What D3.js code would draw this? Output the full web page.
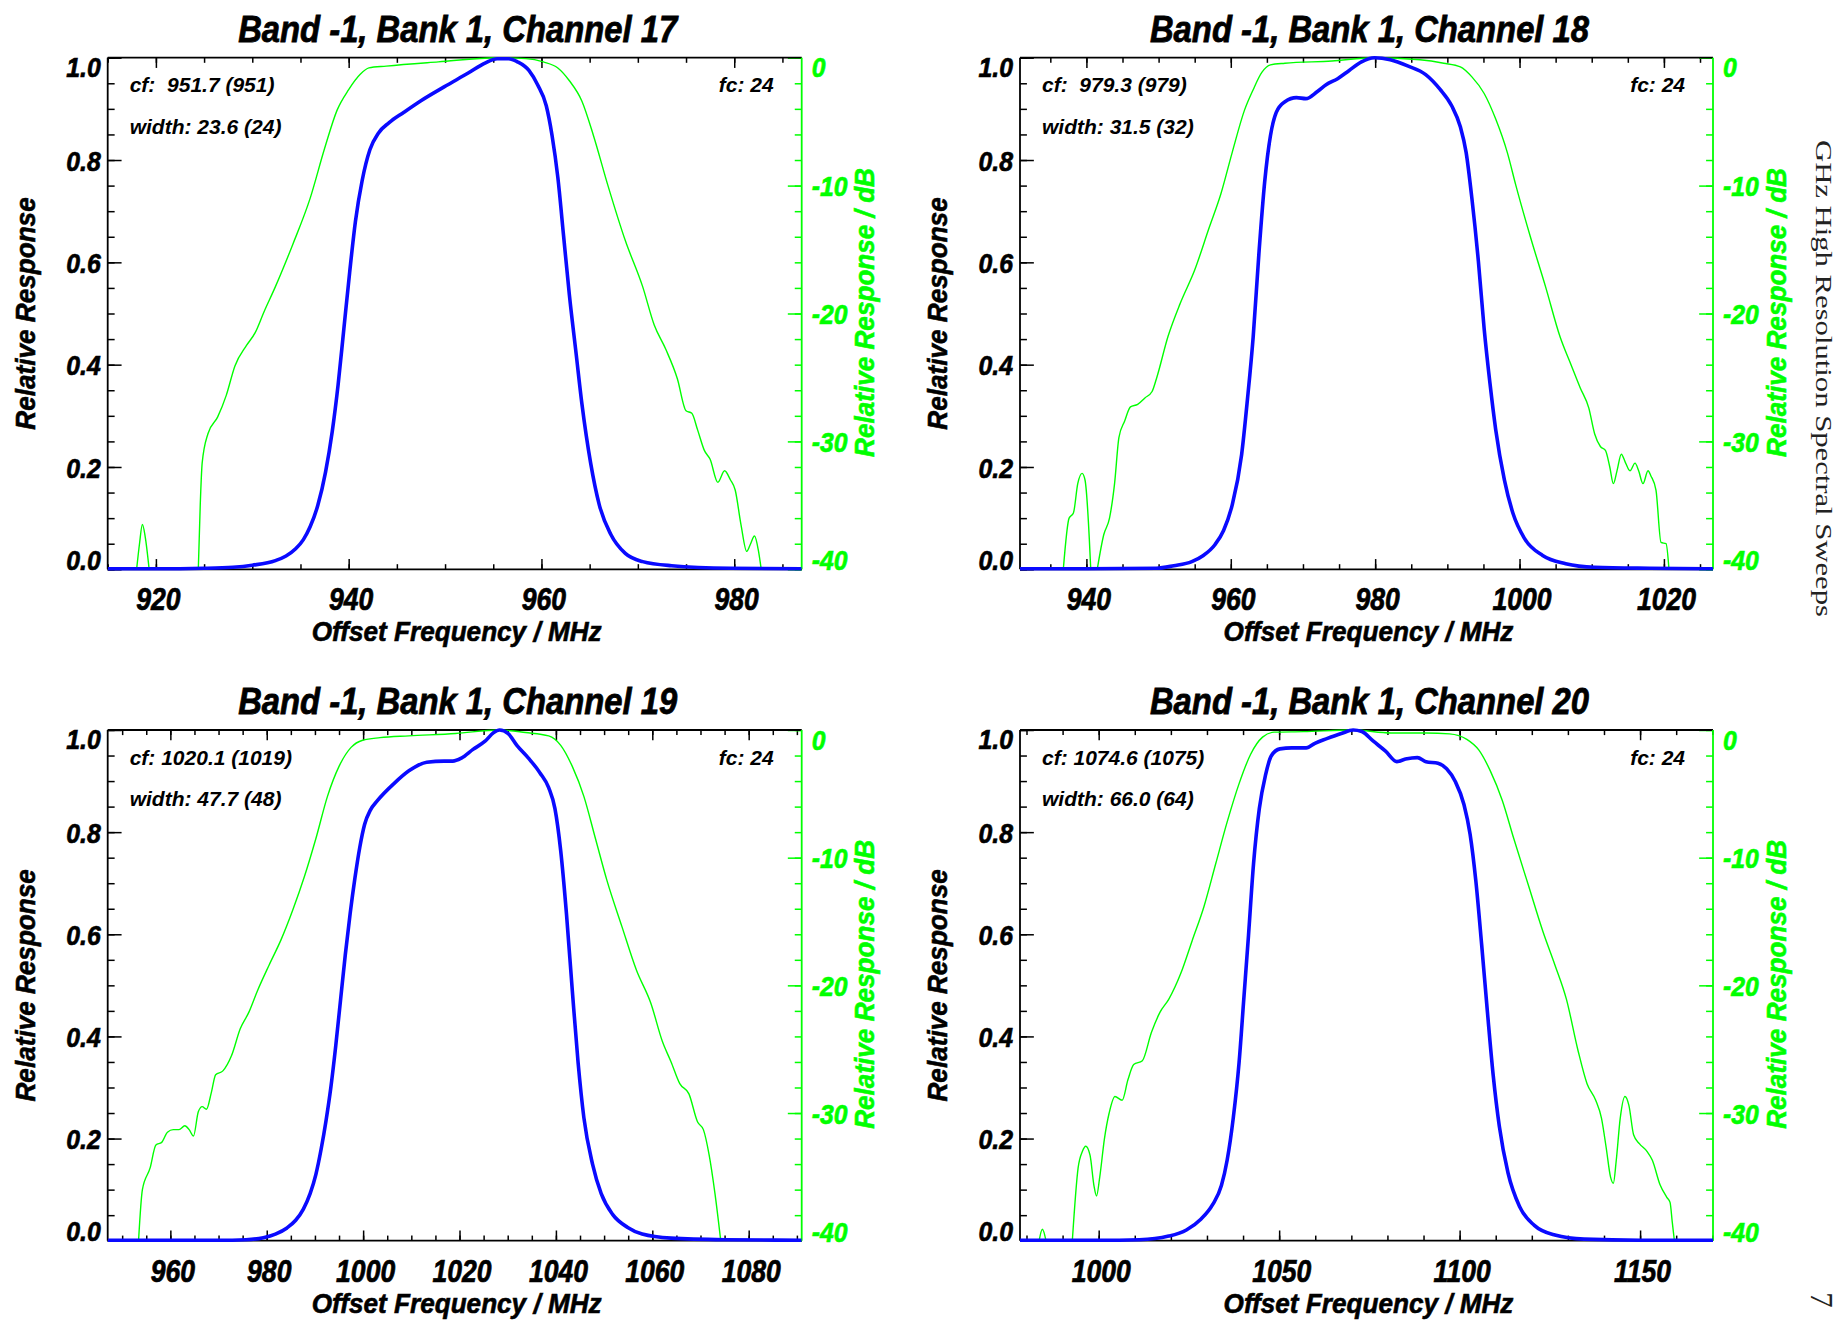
<!DOCTYPE html>
<html>
<head>
<meta charset="utf-8">
<script src="https://cdn.jsdelivr.net/npm/d3@7"></script>
<style>
  body { margin: 0; background: #fff; }
  svg { display: block; }
</style>
</head>
<body>
<script>
// ---------------- DATA ----------------
const titles = ["Band -1, Bank 1, Channel 17", "Band -1, Bank 1, Channel 18",
                "Band -1, Bank 1, Channel 19", "Band -1, Bank 1, Channel 20"];
const cfLabels = ["cf:  951.7 (951)", "cf:  979.3 (979)", "cf: 1020.1 (1019)", "cf: 1074.6 (1075)"];
const widthLabels = ["width: 23.6 (24)", "width: 31.5 (32)", "width: 47.7 (48)", "width: 66.0 (64)"];
const fcLabels = ["fc: 24", "fc: 24", "fc: 24", "fc: 24"];

const xDomains = [[915, 987], [930.8, 1026.8], [947, 1091], [978.2, 1170.2]];
const xTickValues = [[920, 940, 960, 980], [940, 960, 980, 1000, 1020],
                     [960, 980, 1000, 1020, 1040, 1060, 1080], [1000, 1050, 1100, 1150]];
const xMinorSteps = [5, 5, 5, 10];

const yTickValues = [0, 0.2, 0.4, 0.6, 0.8, 1.0];
const yTickLabels = ["0.0", "0.2", "0.4", "0.6", "0.8", "1.0"];
const dbTickValues = [-40, -30, -20, -10, 0];
const dbTickLabels = ["-40", "-30", "-20", "-10", "0"];

const xTitle = "Offset Frequency / MHz";
const yTitle = "Relative Response";
const dbTitle = "Relative Response / dB";
const sideNote = "GHz High Resolution Spectral Sweeps";
const pageNumber = "7";

// linear relative response [MHz, value]
const ch17Lin = [[915,0.001],[920,0.001],[925,0.002],[928,0.004],[930,0.008],[932.4,0.017],[933.5,0.026],
  [934.5,0.040],[935.3,0.058],[936.0,0.083],[936.8,0.125],[937.6,0.19],[938.3,0.27],[938.9,0.36],[939.5,0.47],
  [940.1,0.58],[940.7,0.68],[941.4,0.76],[942.2,0.82],[943.1,0.853],[944.2,0.873],[945.7,0.893],[947.5,0.916],
  [949.9,0.943],[952.4,0.97],[954.2,0.99],[955.4,0.998],[956.6,0.998],[957.5,0.992],[958.7,0.975],[959.6,0.947],
  [960.5,0.906],[961.1,0.848],[961.7,0.766],[962.3,0.651],[962.9,0.536],[963.6,0.421],[964.2,0.323],[965.1,0.208],
  [966.0,0.126],[967.2,0.068],[968.7,0.031],[970.5,0.015],[973.5,0.007],[979.6,0.002],[987,0.001]];
const ch18Lin = [[930.8,0.001],[940,0.001],[949.7,0.002],[952.1,0.007],[954.6,0.015],[956.2,0.027],[957.8,0.048],
  [959.0,0.076],[960.2,0.126],[961.5,0.224],[962.3,0.331],[963.1,0.454],[963.9,0.618],[964.7,0.758],[965.5,0.848],
  [966.3,0.893],[967.5,0.914],[969.1,0.922],[970.4,0.920],[972.0,0.934],[973.2,0.947],[974.8,0.959],[976.4,0.975],
  [978.1,0.992],[979.9,1.0],[982.1,0.996],[984.5,0.984],[987.0,0.967],[989.0,0.938],[990.6,0.906],[991.8,0.865],
  [992.6,0.815],[993.4,0.725],[994.3,0.602],[995.1,0.470],[995.9,0.364],[996.7,0.273],[997.9,0.175],[999.1,0.109],
  [1000.7,0.06],[1003.2,0.027],[1006.4,0.011],[1010.4,0.004],[1018,0.002],[1026.8,0.001]];
const ch19Lin = [[947,0.001],[960,0.001],[970,0.001],[975.7,0.002],[979.3,0.006],[981.8,0.013],[984.2,0.025],
  [986.0,0.040],[987.6,0.062],[989.0,0.092],[990.2,0.13],[991.3,0.18],[992.3,0.235],[993.3,0.30],[994.3,0.38],
  [995.3,0.47],[996.3,0.56],[997.3,0.64],[998.3,0.71],[999.3,0.77],[1000.3,0.815],[1001.5,0.843],[1003.0,0.862],
  [1006.5,0.896],[1009.5,0.920],[1013.2,0.937],[1016.8,0.939],[1018.6,0.939],[1020.4,0.945],[1022.8,0.962],
  [1025.3,0.978],[1027.1,0.995],[1028.3,1.0],[1030.1,0.993],[1031.9,0.970],[1034.3,0.945],[1036.7,0.916],
  [1038.5,0.887],[1039.8,0.846],[1041.0,0.763],[1042.2,0.639],[1043.4,0.490],[1044.6,0.349],[1045.8,0.241],
  [1047.6,0.150],[1049.4,0.092],[1051.8,0.051],[1054.9,0.026],[1057.9,0.013],[1063.9,0.005],[1075,0.002],[1091,0.001]];
const ch20Lin = [[978.2,0.001],[1000,0.001],[1011.3,0.002],[1019.4,0.009],[1024.3,0.021],[1028.3,0.042],
  [1031.6,0.071],[1034.0,0.108],[1035.6,0.158],[1037.3,0.241],[1038.9,0.349],[1040.2,0.473],[1041.5,0.597],
  [1042.9,0.738],[1044.5,0.846],[1046.2,0.911],[1047.8,0.949],[1050.2,0.963],[1053.5,0.965],[1057.5,0.965],
  [1059.9,0.974],[1063.2,0.983],[1067.2,0.993],[1070.5,1.0],[1072.9,0.997],[1076.1,0.978],[1079.4,0.959],
  [1082.6,0.938],[1085.0,0.943],[1088.3,0.946],[1090.7,0.938],[1094.0,0.935],[1096.4,0.924],[1098.8,0.899],
  [1101.2,0.854],[1102.9,0.796],[1104.5,0.704],[1106.1,0.580],[1107.7,0.448],[1109.3,0.324],[1111.0,0.224],
  [1113.4,0.133],[1116.6,0.067],[1120.7,0.030],[1126.4,0.011],[1134.5,0.003],[1150,0.001],[1170.2,0.001]];

// relative response in dB [MHz, dB]; null = below the -40 dB floor (not drawn)
const ch17Db = [[918.0,-40],[918.3,-38],[918.6,-36.5],[918.9,-37.5],[919.3,-40],[919.4,null],[924.3,null],
  [924.4,-40],[924.6,-35],[924.8,-31.7],[925.4,-29.4],[926.4,-28.1],[927.3,-26.4],[928.2,-24.1],[929.4,-22.5],
  [930.3,-21.5],[931.2,-19.9],[932.4,-17.9],[934.2,-14.6],[936.0,-11.0],[937.5,-7.1],[938.8,-4.1],[940.0,-2.5],
  [941.2,-1.3],[942.1,-0.8],[943.9,-0.66],[949.3,-0.33],[955.4,0],[958.4,-0.07],[960.2,-0.33],[961.7,-0.8],
  [962.9,-1.8],[964.2,-3.4],[965.4,-6.1],[966.9,-10.0],[968.7,-14.3],[970.5,-17.9],[971.7,-20.9],[972.9,-22.8],
  [974.1,-25.1],[975.0,-27.6],[975.6,-27.8],[976.2,-29.1],[976.9,-30.7],[977.5,-31.4],[978.3,-33.2],[979.0,-32.3],
  [979.6,-33.0],[980.1,-33.8],[980.7,-36.5],[981.3,-38.6],[981.7,-38.0],[982.1,-37.4],[982.5,-38.5],[982.8,-40]];
const ch18Db = [[936.8,-40],[937.6,-36.0],[938.2,-35.6],[938.8,-33.3],[939.4,-32.5],[939.8,-33.0],[940.4,-37.6],
  [940.6,-40],[940.7,null],[941.4,null],[941.5,-40],[942.4,-37.3],[943.2,-36.0],[943.9,-33.3],[944.5,-29.7],
  [945.3,-28.4],[946.1,-27.3],[947.1,-27.1],[948.1,-26.6],[949.1,-26.1],[949.7,-25.1],[951.3,-21.8],[953.0,-19.2],
  [955.0,-16.6],[957.0,-13.3],[958.6,-10.7],[960.2,-7.4],[961.9,-4.1],[963.1,-2.5],[964.3,-1.15],[965.5,-0.56],
  [967.5,-0.43],[974.0,-0.26],[979.8,0],[986.2,-0.16],[989.5,-0.43],[991.8,-0.72],[993.4,-1.5],[995.1,-2.8],
  [996.7,-4.8],[998.3,-7.4],[999.5,-10.0],[1001.5,-14.0],[1003.6,-17.9],[1005.6,-21.8],[1007.2,-24.1],
  [1008.4,-25.8],[1009.6,-27.4],[1010.4,-29.4],[1011.2,-30.4],[1011.9,-30.7],[1012.5,-32.0],[1013.0,-33.3],
  [1013.5,-32.3],[1014.1,-31.0],[1014.7,-31.7],[1015.3,-32.3],[1016.0,-31.7],[1016.5,-32.3],[1017.1,-33.3],
  [1017.8,-32.3],[1018.2,-32.7],[1018.9,-33.8],[1019.6,-37.9],[1020.3,-38.0],[1020.7,-40]];
const ch19Db = [[953.4,-40],[954.2,-36.0],[955.8,-34.3],[957.0,-32.5],[958.2,-32.3],[959.4,-31.5],[960.6,-31.3],
  [961.8,-31.3],[963.0,-31.0],[963.9,-31.3],[964.8,-31.8],[965.8,-29.9],[966.6,-29.5],[967.5,-29.7],[968.5,-28.4],
  [969.4,-27.0],[970.9,-26.7],[972.7,-25.5],[974.5,-23.4],[976.3,-22.1],[978.1,-20.4],[980.5,-18.4],[983.0,-16.4],
  [985.4,-14.1],[987.8,-11.5],[990.2,-8.5],[992.6,-5.2],[995.0,-2.85],[997.5,-1.36],[999.9,-0.8],[1003.5,-0.6],
  [1009.5,-0.46],[1019.2,-0.27],[1028.3,0],[1033.7,-0.2],[1038.5,-0.46],[1041.0,-1.2],[1043.4,-2.85],
  [1045.8,-5.2],[1048.2,-8.5],[1050.6,-11.8],[1053.7,-15.4],[1056.7,-18.8],[1059.7,-21.4],[1062.1,-24.4],
  [1063.9,-26.0],[1065.7,-27.7],[1067.6,-28.5],[1069.4,-30.7],[1070.6,-31.3],[1071.8,-33.3],[1073.0,-36.3],
  [1074.2,-40]];
const ch20Db = [[983.5,-40],[984.4,-39.1],[985.4,-40],[985.5,null],[992.6,null],[992.7,-40],[994.3,-34.3],
  [995.5,-33.0],[996.4,-32.6],[997.6,-33.3],[998.7,-35.7],[999.4,-36.5],[1000.3,-35.0],[1001.6,-32.0],
  [1002.9,-30.0],[1004.5,-28.7],[1006.5,-29.0],[1008.1,-27.4],[1009.7,-26.2],[1012.1,-25.9],[1014.6,-23.7],
  [1017.0,-22.1],[1019.4,-21.1],[1022.7,-19.1],[1025.9,-16.5],[1029.2,-13.8],[1032.4,-10.5],[1035.6,-7.2],
  [1038.9,-4.2],[1042.1,-1.9],[1045.4,-0.56],[1048.6,-0.17],[1056.7,-0.13],[1070.5,0],[1081.0,-0.23],
  [1090.7,-0.23],[1097.2,-0.3],[1102.0,-0.73],[1105.3,-1.56],[1108.5,-3.2],[1111.8,-5.5],[1115.0,-8.5],
  [1119.1,-12.2],[1123.1,-15.8],[1126.4,-18.4],[1129.6,-21.1],[1132.8,-25.1],[1135.3,-27.7],[1137.7,-29.0],
  [1139.3,-30.4],[1140.6,-32.7],[1141.8,-35.0],[1142.6,-35.5],[1143.4,-33.7],[1144.5,-30.4],[1145.8,-28.7],
  [1146.9,-29.4],[1148.2,-31.7],[1149.8,-32.4],[1151.9,-33.0],[1153.4,-33.7],[1155.5,-35.6],[1157.4,-36.6],
  [1158.3,-37.0],[1158.9,-38.5],[1159.5,-40]];

const linSeries = [ch17Lin, ch18Lin, ch19Lin, ch20Lin];
const dbSeries = [ch17Db, ch18Db, ch19Db, ch20Db];

// ---------------- LAYOUT ----------------
const W = 1843, H = 1325;
const cols = [[107.7, 801.7], [1020, 1713]];
const rows = [[57.7, 569.3], [730, 1240.7]];
const BLUE = "#0a0aff", GREEN = "#00ff00";
const SANS = "'Liberation Sans', Arial, Helvetica, sans-serif";

const svg = d3.select("body").append("svg").attr("width", W).attr("height", H);
svg.append("rect").attr("width", W).attr("height", H).attr("fill", "#fff");

function squeeze(sel, f) {
  sel.each(function () {
    const w = this.getComputedTextLength();
    if (w > 0) {
      this.setAttribute("textLength", (w * f).toFixed(2));
      this.setAttribute("lengthAdjust", "spacingAndGlyphs");
    }
  });
}
function styleText(sel, size, color, heavy) {
  const c = color || "#000";
  sel.attr("font-family", SANS).attr("font-weight", "bold").attr("font-style", "italic")
     .attr("font-size", size).attr("fill", c)
     .attr("stroke", heavy ? c : "none").attr("stroke-width", heavy || 0);
}
function cleanAxis(g, color) {
  g.select(".domain").remove();
  g.selectAll(".tick line").attr("stroke", color).attr("stroke-width", 1.5);
}

for (let i = 0; i < 4; i++) {
  const [L, R] = cols[i % 2];
  const [T, B] = rows[Math.floor(i / 2)];
  const x = d3.scaleLinear().domain(xDomains[i]).range([L, R]);
  const y = d3.scaleLinear().domain([0, 1]).range([B, T]);
  const yd = d3.scaleLinear().domain([-40, 0]).range([B, T]);
  const g = svg.append("g");

  const dom = xDomains[i];
  const minorX = d3.range(Math.ceil(dom[0] / xMinorSteps[i]) * xMinorSteps[i], dom[1] + 1e-9, xMinorSteps[i]);
  const xMaj = 0.02 * (B - T), yMaj = 0.02 * (R - L);

  // x axes (bottom & top), inward ticks
  const gb1 = g.append("g").attr("transform", `translate(0,${B})`)
    .call(d3.axisBottom(x).tickValues(minorX).tickSize(-xMaj / 2).tickFormat(""));
  cleanAxis(gb1, "#000");
  const gb2 = g.append("g").attr("transform", `translate(0,${B})`)
    .call(d3.axisBottom(x).tickValues(xTickValues[i]).tickSize(-xMaj).tickFormat(d => String(d)));
  cleanAxis(gb2, "#000");
  const xl = gb2.selectAll(".tick text").attr("y", 41).attr("dy", 0).attr("dx", 2);
  styleText(xl, 30.5, "#000", 0.7); squeeze(xl, 0.87);

  const gt1 = g.append("g").attr("transform", `translate(0,${T})`)
    .call(d3.axisTop(x).tickValues(minorX).tickSize(-xMaj / 2).tickFormat(""));
  cleanAxis(gt1, "#000");
  const gt2 = g.append("g").attr("transform", `translate(0,${T})`)
    .call(d3.axisTop(x).tickValues(xTickValues[i]).tickSize(-xMaj).tickFormat(""));
  cleanAxis(gt2, "#000");

  // left linear axis
  const gl1 = g.append("g").attr("transform", `translate(${L},0)`)
    .call(d3.axisLeft(y).tickValues(d3.range(0, 1.0001, 0.05)).tickSize(-yMaj / 2).tickFormat(""));
  cleanAxis(gl1, "#000");
  const gl2 = g.append("g").attr("transform", `translate(${L},0)`)
    .call(d3.axisLeft(y).tickValues(yTickValues).tickSize(-yMaj).tickFormat((d, k) => yTickLabels[k]));
  cleanAxis(gl2, "#000");
  const yl = gl2.selectAll(".tick text").attr("x", -7).attr("dy", 0)
    .attr("y", (d, k) => k === 0 ? 0 : (k === yTickValues.length - 1 ? 18.5 : 10.3));
  styleText(yl, 28.5, "#000", 0.7); squeeze(yl, 0.87);

  // right dB axis (green)
  const gr1 = g.append("g").attr("transform", `translate(${R},0)`)
    .call(d3.axisRight(yd).tickValues(d3.range(-40, 0.001, 2)).tickSize(-yMaj / 2).tickFormat(""));
  cleanAxis(gr1, GREEN);
  const gr2 = g.append("g").attr("transform", `translate(${R},0)`)
    .call(d3.axisRight(yd).tickValues(dbTickValues).tickSize(-yMaj).tickFormat((d, k) => dbTickLabels[k]));
  cleanAxis(gr2, GREEN);
  const rl = gr2.selectAll(".tick text").attr("x", 10).attr("dy", 0).attr("text-anchor", "start")
    .attr("y", (d, k) => k === 0 ? 0.5 : (k === dbTickValues.length - 1 ? 19 : 10.3));
  styleText(rl, 28.5, GREEN, 0.7); squeeze(rl, 0.87);

  // frame
  g.append("line").attr("x1", L).attr("x2", R).attr("y1", T).attr("y2", T).attr("stroke", "#000").attr("stroke-width", 1.8);
  g.append("line").attr("x1", L).attr("x2", R).attr("y1", B).attr("y2", B).attr("stroke", "#000").attr("stroke-width", 1.8);
  g.append("line").attr("x1", L).attr("x2", L).attr("y1", T).attr("y2", B).attr("stroke", "#000").attr("stroke-width", 1.8);
  g.append("line").attr("x1", R).attr("x2", R).attr("y1", T).attr("y2", B).attr("stroke", GREEN).attr("stroke-width", 1.8);

  // curves
  const clipId = "clip" + i;
  svg.append("clipPath").attr("id", clipId).append("rect")
    .attr("x", L).attr("y", T - 2).attr("width", R - L).attr("height", B - T + 4);
  const cg = g.append("g").attr("clip-path", `url(#${clipId})`);
  const dbLine = d3.line().defined(d => d[1] !== null).x(d => x(d[0])).y(d => yd(d[1])).curve(d3.curveMonotoneX);
  const linLine = d3.line().x(d => x(d[0])).y(d => y(d[1])).curve(d3.curveMonotoneX);
  cg.append("path").attr("d", dbLine(dbSeries[i])).attr("fill", "none").attr("stroke", GREEN).attr("stroke-width", 1.4);
  cg.append("path").attr("d", linLine(linSeries[i])).attr("fill", "none").attr("stroke", BLUE)
    .attr("stroke-width", 3.6).attr("stroke-linejoin", "round");

  // titles
  const t = g.append("text").attr("x", (L + R) / 2 + 3).attr("y", T - 15.8).attr("text-anchor", "middle").text(titles[i]);
  styleText(t, 37.7, "#000", 0.8); squeeze(t, 0.87);
  const xt = g.append("text").attr("x", (L + R) / 2 + 2).attr("y", B + 71.8).attr("text-anchor", "middle").text(xTitle);
  styleText(xt, 27.5, "#000", 0.6); squeeze(xt, 0.95);
  const yt = g.append("text").attr("transform", `translate(${L - 72.7},${(T + B) / 2}) rotate(-90)`)
    .attr("text-anchor", "middle").text(yTitle);
  styleText(yt, 27.5, "#000", 0.6); squeeze(yt, 0.95);
  const dt = g.append("text").attr("transform", `translate(${R + 72.5},${(T + B) / 2 - 1}) rotate(-90)`)
    .attr("text-anchor", "middle").text(dbTitle);
  styleText(dt, 27.5, GREEN, 0.6); squeeze(dt, 0.95);

  // annotations
  const a1 = g.append("text").attr("x", L + 22).attr("y", T + 34.5).attr("xml:space", "preserve").text(cfLabels[i]);
  styleText(a1, 21);
  const a2 = g.append("text").attr("x", L + 22).attr("y", T + 75.8).text(widthLabels[i]);
  styleText(a2, 21);
  const a3 = g.append("text").attr("x", R - 28).attr("y", T + 34.5).attr("text-anchor", "end").text(fcLabels[i]);
  styleText(a3, 21);
}

// side note and page number
svg.append("text").attr("transform", "translate(1815.5,378.5) rotate(90)")
  .attr("text-anchor", "middle").attr("font-family", "'Liberation Serif', 'DejaVu Serif', serif")
  .attr("font-size", 24).attr("fill", "#222").attr("textLength", 477).attr("lengthAdjust", "spacingAndGlyphs")
  .text(sideNote);
svg.append("text").attr("transform", "translate(1811,1300) rotate(90)")
  .attr("text-anchor", "middle").attr("font-family", "'Liberation Serif', 'DejaVu Serif', serif")
  .attr("font-size", 31).attr("fill", "#222").text(pageNumber);
</script>
</body>
</html>
